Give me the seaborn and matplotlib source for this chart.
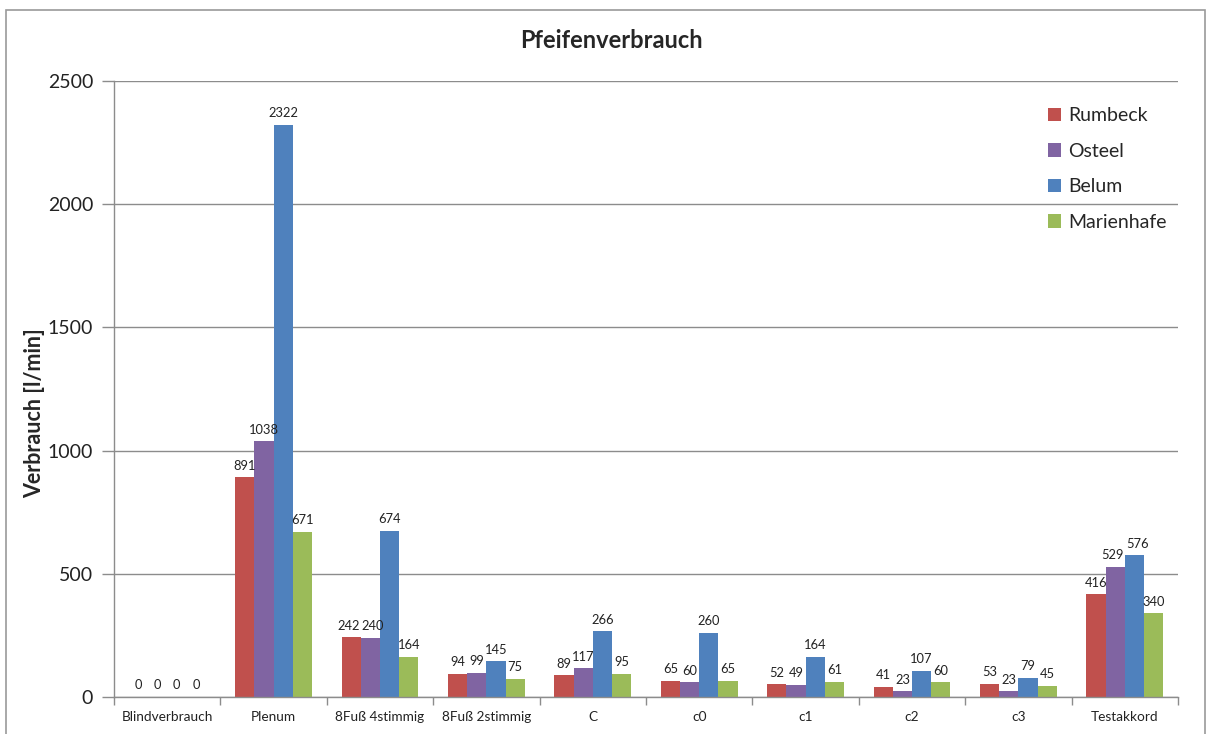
import matplotlib
matplotlib.use("Agg")
import matplotlib.pyplot as plt
import seaborn as sns
import pandas as pd
from matplotlib.patches import Rectangle, Patch

categories = ["Blindverbrauch", "Plenum", "8Fuß 4stimmig", "8Fuß 2stimmig", "C",
              "c0", "c1", "c2", "c3", "Testakkord"]
series = ["Rumbeck", "Osteel", "Belum", "Marienhafe"]
rumbeck = [0, 891, 242, 94, 89, 65, 52, 41, 53, 416]
osteel = [0, 1038, 240, 99, 117, 60, 49, 23, 23, 529]
belum = [0, 2322, 674, 145, 266, 260, 164, 107, 79, 576]
marienhafe = [0, 671, 164, 75, 95, 65, 61, 60, 45, 340]
colors = ["#C0504D", "#8064A2", "#4F81BD", "#9BBB59"]
yticks = [0, 500, 1000, 1500, 2000, 2500]

rows = []
for name, vals in zip(series, [rumbeck, osteel, belum, marienhafe]):
    for cat, v in zip(categories, vals):
        rows.append({"Kategorie": cat, "Orgel": name, "Wert": v})
df = pd.DataFrame(rows)

sns.set_style("white")
plt.rcParams["font.family"] = ["Lato", "DejaVu Sans"]

fig = plt.figure(figsize=(12.12, 7.34), dpi=100)
ax = fig.add_axes([114 / 1212, 1 - 697 / 734, (1178 - 114) / 1212, (697 - 81) / 734])

sns.barplot(data=df, x="Kategorie", y="Wert", hue="Orgel", order=categories,
            hue_order=series, palette=colors, saturation=1, width=0.72,
            ax=ax, legend=False, errorbar=None, linewidth=0, edgecolor="none")

label_sets = []
for cont in ax.containers:
    label_sets.append(ax.bar_label(cont, padding=4, fontsize=9.3, color="#222222"))

ax.set_xlim(-0.5, len(categories) - 0.5)
ax.set_ylim(0, 2500)
ax.set_yticks(yticks)
ax.set_yticklabels([str(t) for t in yticks], fontsize=14, color="#222222")
ax.yaxis.grid(True, color="#8c8c8c", linewidth=1)
ax.set_axisbelow(True)
ax.tick_params(axis="y", length=9, width=1, color="#8c8c8c", direction="out", left=True, pad=6)

ax.set_xticks(range(len(categories)))
ax.set_xticklabels(categories, fontsize=9.8, color="#222222")
ax.tick_params(axis="x", which="major", length=0, pad=10)
ax.set_xticks([i + 0.5 for i in range(-1, len(categories))], minor=True)
ax.tick_params(axis="x", which="minor", length=6, width=1, color="#8c8c8c", direction="out", bottom=True)

for s in ["top", "right"]:
    ax.spines[s].set_visible(False)
for s in ["left", "bottom"]:
    ax.spines[s].set_color("#8c8c8c")
    ax.spines[s].set_linewidth(1)

ax.set_xlabel("")
ax.set_ylabel("")
fig.text(35 / 1212, 1 - 413 / 734, "Verbrauch [l/min]", rotation=90, ha="center", va="center",
         fontsize=15.5, fontweight="bold")

fig.text(611 / 1212, 1 - 40 / 734, "Pfeifenverbrauch", ha="center", va="center",
         fontsize=17, fontweight="bold")

handles = [Patch(facecolor=c, edgecolor="none") for c in colors]
ax.legend(handles, series, loc="upper left", bbox_to_anchor=(1030 / 1212, 1 - 90 / 734),
          bbox_transform=fig.transFigure, frameon=False, fontsize=14,
          handlelength=0.7, handleheight=0.7, handletextpad=0.35, labelspacing=0.95)

fig.patches.append(Rectangle((6 / 1212, -0.05), (1205 - 6) / 1212, 1.05 - 10 / 734,
                             transform=fig.transFigure, fill=False,
                             edgecolor="#9a9a9a", linewidth=1.2))

# nudge neighbouring bar labels apart if they touch
fig.canvas.draw()
renderer = fig.canvas.get_renderer()
px_to_pt = 72.0 / fig.dpi
for ci in range(len(categories)):
    for si in range(len(series) - 1):
        a = label_sets[si][ci]
        b = label_sets[si + 1][ci]
        ba = a.get_window_extent(renderer)
        bb = b.get_window_extent(renderer)
        if ba.overlaps(bb):
            ov = ba.x1 - bb.x0 + 2
            ax_, ay_ = a.xyann
            bx_, by_ = b.xyann
            a.xyann = (ax_ - ov / 2 * px_to_pt, ay_)
            b.xyann = (bx_ + ov / 2 * px_to_pt, by_)

fig.savefig("out.png", dpi=100, facecolor="white")
